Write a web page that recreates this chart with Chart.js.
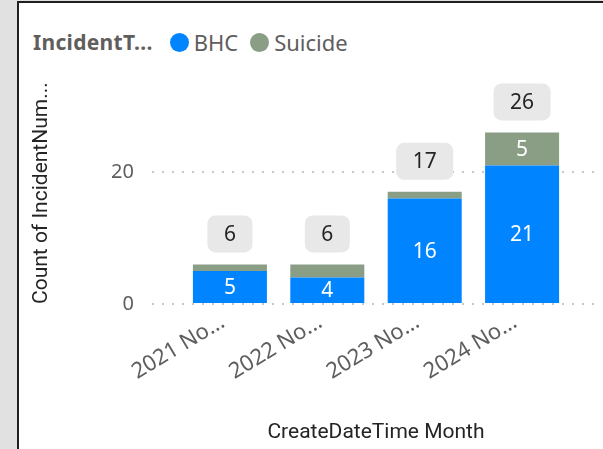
<!DOCTYPE html>
<html>
<head>
<meta charset="utf-8">
<script src="https://cdn.jsdelivr.net/npm/chart.js@4.4.1/dist/chart.umd.min.js"></script>
<style>
  html, body { margin: 0; padding: 0; }
  body { width: 603px; height: 449px; background: #e1e1e1; overflow: hidden; position: relative; }
  #panel { position: absolute; left: 17px; top: 1px; width: 584px; height: 446px;
           border-left: 2px solid #1f1f1f; border-top: 2px solid #1f1f1f; background: #fff; }
  #legend { position: absolute; left: 14px; top: 24px; font-family: "Noto Sans", sans-serif;
            font-size: 22px; color: #605e5c; white-space: nowrap; display: flex; align-items: center; }
  #legend .title { font-weight: bold; font-size: 21px; margin-right: 17px; letter-spacing: 0.3px; }
  #legend .item { display: flex; align-items: center; margin-right: 12px; }
  #legend .dot { width: 19px; height: 19px; border-radius: 50%; margin-right: 5px; }
  #chart { position: absolute; left: 0; top: 0; }
</style>
</head>
<body>
<div id="panel">
  <div id="legend"></div>
  <canvas id="chart" width="584" height="446"></canvas>
</div>
<script>
// data
const months = ['2021 No...', '2022 No...', '2023 No...', '2024 No...'];
const bhc = [5, 4, 16, 21];
const suicide = [1, 2, 1, 5];
const yTicks = [0, 20];

const legendTitle = 'IncidentT...';
const seriesNames = ['BHC', 'Suicide'];
const seriesColors = ['#0084ff', '#899e85'];

const numFont = '"Noto Sans", sans-serif';
const titleFont = 'Roboto, sans-serif';

function buildLegend() {
  const el = document.getElementById('legend');
  let html = `<span class="title">${legendTitle}</span>`;
  seriesNames.forEach((n, i) => {
    html += `<span class="item"><span class="dot" style="background:${seriesColors[i]}"></span>${n}</span>`;
  });
  el.innerHTML = html;
}

// value labels inside segments and total labels in grey boxes
const labelPlugin = {
  id: 'barLabels',
  afterDatasetsDraw(chart) {
    const ctx = chart.ctx;
    const xs = chart.scales.x, ys = chart.scales.y;
    ctx.save();
    ctx.textAlign = 'center';
    ctx.textBaseline = 'middle';
    ctx.font = '21px ' + numFont;
    ctx.fillStyle = '#ffffff';
    chart.data.datasets.forEach((ds, di) => {
      chart.getDatasetMeta(di).data.forEach((bar, i) => {
        const h = bar.base - bar.y;
        if (h < 20) return;
        ctx.fillText(String(ds.data[i].y), bar.x, (bar.y + bar.base) / 2 + 1);
      });
    });

    months.forEach((m, i) => {
      const total = bhc[i] + suicide[i];
      const txt = String(total);
      const x = xs.getPixelForValue(i);
      const bottom = ys.getPixelForValue(total) - 12;
      const w = ctx.measureText(txt).width + 33;
      const h = 37;
      ctx.fillStyle = '#e8e8e8';
      ctx.beginPath();
      ctx.roundRect(x - w / 2, bottom - h, w, h, 8);
      ctx.fill();
      ctx.fillStyle = '#252423';
      ctx.fillText(txt, x, bottom - h / 2 + 1);
    });
    ctx.restore();
  }
};

function drawChart() {
  const ctx = document.getElementById('chart').getContext('2d');
  new Chart(ctx, {
    type: 'bar',
    data: {
      datasets: [{
        label: seriesNames[0],
        data: bhc.map((v, i) => ({ x: i, y: v })),
        backgroundColor: seriesColors[0]
      },
      {
        label: seriesNames[1],
        data: suicide.map((v, i) => ({ x: i, y: v })),
        backgroundColor: seriesColors[1]
      }]
    },
    options: {
      responsive: false,
      animation: false,
      barPercentage: 0.76,
      categoryPercentage: 1,
      layout: { padding: { top: 103, right: 3, left: 0, bottom: 0 } },
      plugins: { legend: { display: false }, tooltip: { enabled: false } },
      scales: {
        x: {
          type: 'linear',
          stacked: true,
          offset: false,
          min: -0.8,
          max: 3.8,
          afterBuildTicks: axis => { axis.ticks = months.map((m, i) => ({ value: i })); },
          afterFit: axis => {
            axis.height = 145;
            axis.paddingLeft = 0;
            axis.paddingRight = 0;
          },
          grid: { display: false, offset: false },
          border: { display: false },
          ticks: {
            callback: v => months[v],
            minRotation: 31,
            maxRotation: 31,
            padding: -3,
            labelOffset: -7,
            color: '#605e5c',
            font: { family: numFont, size: 22 }
          },
          title: {
            display: true,
            text: 'CreateDateTime Month',
            color: '#252423',
            font: { family: titleFont, size: 21 },
            padding: { top: 0, bottom: 4 }
          }
        },
        y: {
          stacked: true,
          min: 0,
          max: 30,
          afterBuildTicks: axis => { axis.ticks = yTicks.map(v => ({ value: v })); },
          afterFit: axis => { axis.width = 133; },
          grid: {
            drawTicks: false,
            color: '#c8c8c8',
            lineWidth: 2
          },
          border: { display: false, dash: [2, 8] },
          ticks: {
            padding: 18,
            color: '#605e5c',
            font: { family: numFont, size: 20 }
          },
          title: {
            display: true,
            text: 'Count of IncidentNum...',
            align: 'start',
            color: '#252423',
            font: { family: titleFont, size: 21 },
            padding: { top: 10, bottom: 0 }
          }
        }
      }
    },
    plugins: [labelPlugin]
  });
}

buildLegend();
drawChart();
</script>
</body>
</html>
